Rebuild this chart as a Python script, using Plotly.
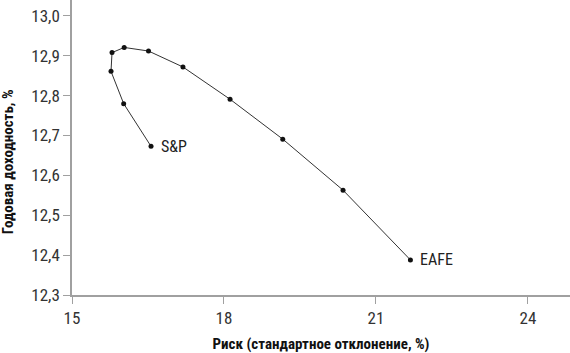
import plotly.graph_objects as go

risk = [16.56, 16.02, 15.77, 15.79, 16.03, 16.51, 17.19, 18.12, 19.16, 20.35, 21.68]
ret = [12.673, 12.780, 12.861, 12.908, 12.921, 12.912, 12.872, 12.791, 12.691, 12.563, 12.388]
end_labels = ["S&P", "EAFE"]
x_ticks = [15, 18, 21, 24]
y_ticks = [12.3, 12.4, 12.5, 12.6, 12.7, 12.8, 12.9, 13.0]
x_title = "Риск (стандартное отклонение, %)"
y_title = "Годовая доходность, %"

FONT = "Roboto Condensed, Liberation Sans Narrow, sans-serif"

fig = go.Figure()
fig.add_trace(go.Scatter(
    x=risk, y=ret, mode="lines+markers",
    line=dict(color="#333333", width=1),
    marker=dict(color="#111111", size=5),
    hoverinfo="skip", showlegend=False,
))

for idx, lab in zip([0, len(risk) - 1], end_labels):
    fig.add_annotation(x=risk[idx], y=ret[idx], text=lab, showarrow=False,
                       xanchor="left", yanchor="middle", xshift=8,
                       font=dict(family=FONT, size=16, color="#222222"))

fig.add_annotation(text="<b>" + y_title + "</b>", xref="paper", yref="paper",
                   x=0, y=0.45, xanchor="center", yanchor="middle", xshift=-64,
                   textangle=-90, showarrow=False,
                   font=dict(family=FONT, size=15, color="#111111"))

axis_common = dict(showgrid=False, zeroline=False, showline=True,
                   linecolor="#a0a0a0", linewidth=1.5, ticks="outside",
                   ticklen=7, tickcolor="#a0a0a0", tickwidth=1,
                   tickfont=dict(family=FONT, size=17, color="#333333"))

fig.update_layout(
    width=570, height=353,
    margin=dict(l=72, r=0, t=0, b=58),
    paper_bgcolor="white", plot_bgcolor="white",
    separators=", ",
    xaxis=dict(range=[15, 24.83], tickvals=x_ticks, **axis_common,
               title=dict(text="<b>" + x_title + "</b>",
                          font=dict(family=FONT, size=15, color="#111111"),
                          standoff=12)),
    yaxis=dict(range=[12.3, 13.04], tickvals=y_ticks, tickformat=".1f", **axis_common),
)

fig.write_html("out.html")
